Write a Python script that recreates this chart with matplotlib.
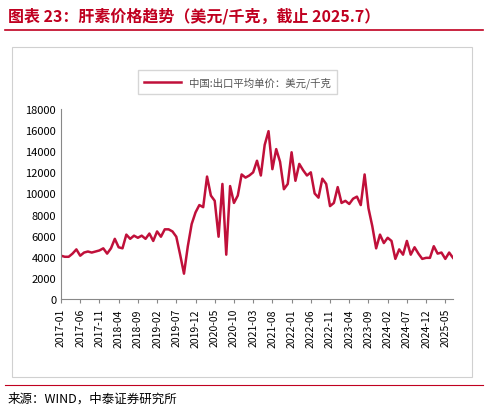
import matplotlib
matplotlib.use("Agg")
import matplotlib.pyplot as plt
import pandas as pd
from matplotlib.patches import Rectangle
from matplotlib.lines import Line2D

plt.rcParams['font.family'] = ['Noto Sans CJK SC', 'DejaVu Sans']

months = pd.period_range("2017-01", "2025-07", freq="M").strftime("%Y-%m").tolist()
values = [4100, 4000, 4000, 4300, 4700, 4100, 4400, 4500, 4400, 4500,
          4600, 4800, 4300, 4800, 5700, 4900, 4800, 6100, 5700, 6000,
          5800, 6000, 5700, 6200, 5500, 6400, 5900, 6600, 6600, 6400,
          5900, 4200, 2400, 5000, 7100, 8200, 8900, 8700, 11600, 9800,
          9300, 5900, 10900, 4200, 10700, 9100, 9800, 11800, 11500, 11700,
          12000, 13100, 11700, 14600, 15900, 12300, 14200, 13000, 10400, 10900,
          13900, 11200, 12800, 12200, 11700, 12000, 10000, 9600, 11400, 10900,
          8800, 9100, 10600, 9100, 9300, 9000, 9500, 9700, 8900, 11800,
          8600, 6900, 4800, 6100, 5300, 5800, 5500, 3800, 4700, 4200,
          5500, 4200, 4900, 4300, 3800, 3900, 3900, 5000, 4300, 4400,
          3800, 4400, 3900]
series_name = "中国:出口平均单价：美元/千克"
yticks = list(range(0, 18001, 2000))

fig = plt.figure(figsize=(4.88, 4.14), dpi=100)
fig.patches.append(Rectangle((12/488, 1-378/414), 460/488, 330/414, transform=fig.transFigure,
                             fill=False, ec="#d0d0d0", lw=0.8))
fig.text(8/488, 1-16/414, "图表 23：肝素价格趋势（美元/千克，截止 2025.7）", color="#c00020",
         fontsize=11.5, fontweight="bold", style="italic", va="center")
fig.add_artist(Line2D([5/488, 483/488], [1-31/414]*2, color="#c00020", lw=1.2))
fig.add_artist(Line2D([5/488, 483/488], [1-386/414]*2, color="#c00020", lw=0.8))
fig.text(8/488, 1-399/414, "来源：WIND，中泰证券研究所", fontsize=9, va="center")

ax = fig.add_axes([61/488, 1-300/414, 392/488, 190/414])
x = list(range(len(values)))
ax.plot(x, values, color="#c0103a", lw=1.8, label=series_name)
ax.set_ylim(0, 18000)
ax.set_yticks(yticks)
ax.set_xlim(0, len(values) - 1)
ax.set_xticks(x[::5])
ax.set_xticklabels(months[::5], rotation=90, fontsize=7.5)
ax.tick_params(axis="y", labelsize=8, length=0)
ax.tick_params(axis="x", length=3, color="#888888")
for s in ["top", "right"]:
    ax.spines[s].set_visible(False)
for s in ["left", "bottom"]:
    ax.spines[s].set_color("#888888")
leg = ax.legend(loc="lower center", bbox_to_anchor=(0.45, 1.05), fontsize=7.5, frameon=True,
                fancybox=False, edgecolor="#cccccc", handlelength=3.5, borderpad=0.6,
                labelcolor="#555555")
fig.savefig("out.png", dpi=100)
